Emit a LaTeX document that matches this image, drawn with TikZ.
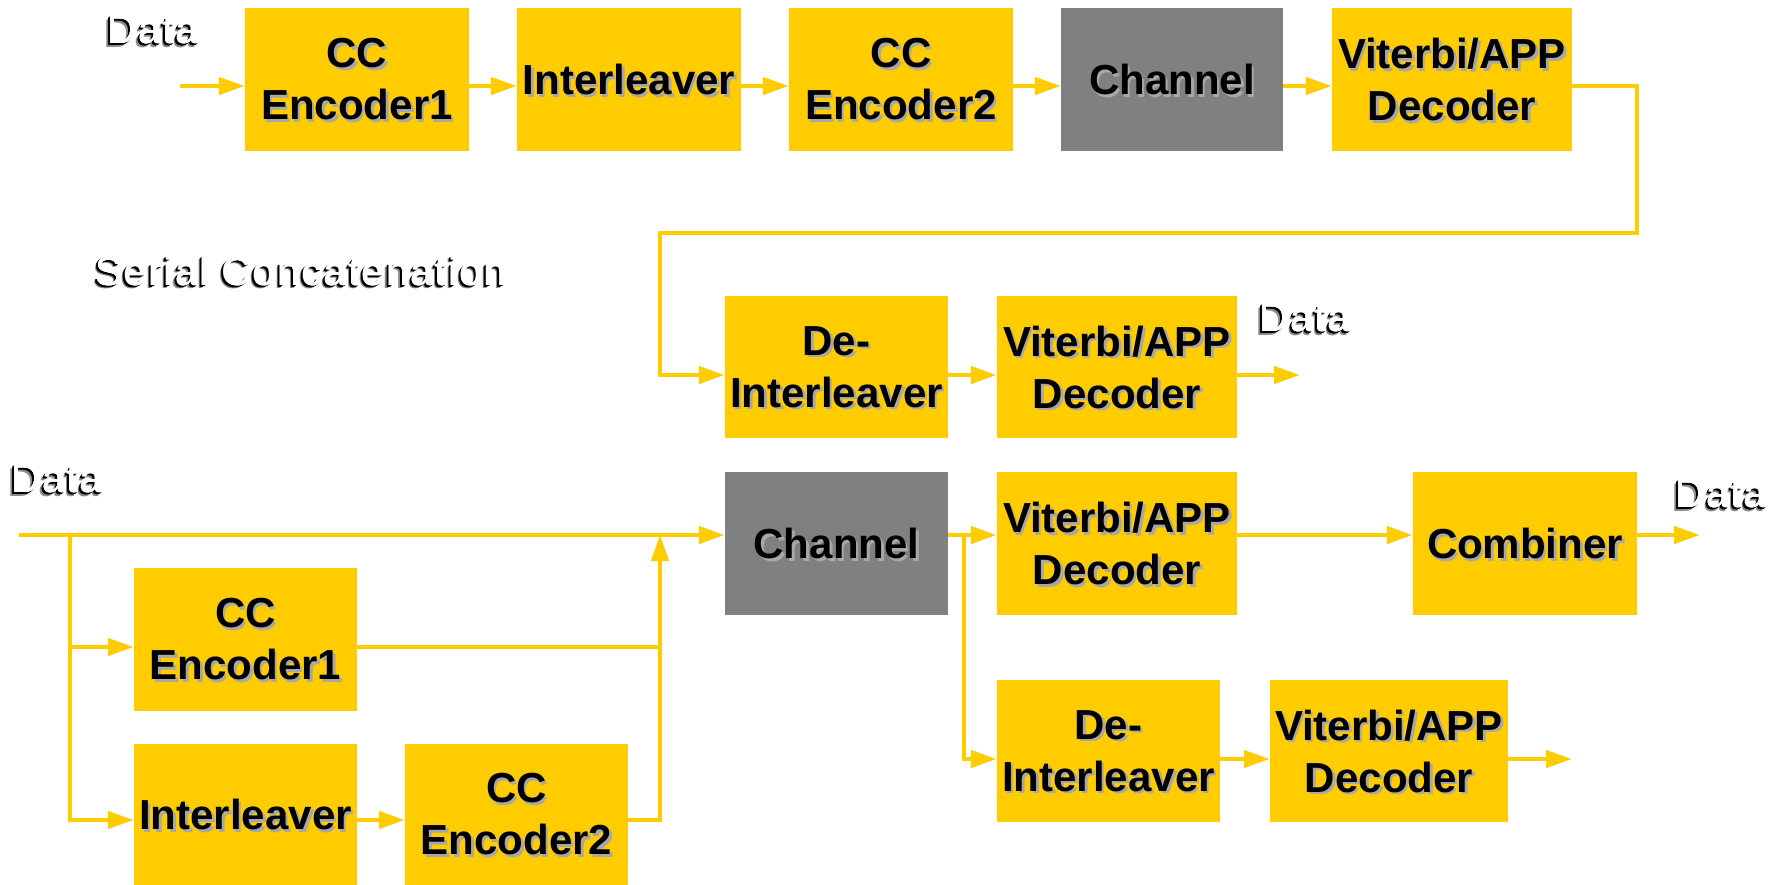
\documentclass[tikz,border=0pt]{standalone}
\usepackage{fontspec}
\setmainfont{Liberation Sans}
\newfontfamily\lblfont[LetterSpace=5.5]{Liberation Sans}
\usetikzlibrary{arrows.meta}
\definecolor{ccyel}{HTML}{FFCC00}
\definecolor{ccgray}{HTML}{808080}
\definecolor{ccshad}{HTML}{A8A8A8}
\tikzset{
  box/.style={fill=ccyel, draw=none, inner sep=0pt},
  gbox/.style={fill=ccgray, draw=none, inner sep=0pt},
  txt/.style={font=\fontsize{42}{52}\selectfont\bfseries, align=center, inner sep=0pt, text=black},
  txtsh/.style={txt, text=ccshad},
  lbl/.style={font=\fontsize{40}{46}\selectfont\lblfont, inner sep=0pt, text=white},
  lblsh/.style={lbl, text=black},
  ln/.style={draw=ccyel, line width=4.5pt},
  arr/.style={ln, -{Triangle[length=26pt,width=17pt]}}
}
\newcommand\myblk[7]{%
  \node[#6, minimum width=#4pt, minimum height=#5pt] (#1) at (#2,#3) {};
  \node[txtsh] at ([shift={(2.5,2.5)}]#1.center) {#7};
  \node[txt] at (#1.center) {#7};}
\newcommand\mylbl[4]{%
  \node[lblsh, text=black!45] at ([shift={(-3.5,3.5)}]#2,#3) {#4};
  \foreach \d in {0.8,1.6,2.4}{\node[lblsh] at ([shift={(-\d,\d)}]#2,#3) {#4};}
  \foreach \d in {-0.4,0.4}{\node[lbl] at ([shift={(\d,0)}]#2,#3) {#4};}
  \node[lbl] (#1) at (#2,#3) {#4};}
\begin{document}
\begin{tikzpicture}[x=1pt,y=-1pt]
\useasboundingbox (0,0) rectangle (1781,885);
% ---------- top row ----------
\myblk{e1}{357}{79.5}{224}{143}{box}{CC\\Encoder1}
\myblk{il}{629}{79.5}{224}{143}{box}{Interleaver}
\myblk{e2}{901}{79.5}{224}{143}{box}{CC\\Encoder2}
\myblk{ch}{1172}{79.5}{222}{143}{gbox}{Channel}
\myblk{vd}{1452}{79.5}{240}{143}{box}{Viterbi/APP\\Decoder}
\mylbl{dt1}{153}{30}{Data}
\coordinate (din) at (180,86);
\draw[arr] (din) -- (din -| e1.west);
\draw[arr] (e1.east |- din) -- (il.west |- din);
\draw[arr] (il.east |- din) -- (e2.west |- din);
\draw[arr] (e2.east |- din) -- (ch.west |- din);
\draw[arr] (ch.east |- din) -- (vd.west |- din);
% ---------- middle row ----------
\mylbl{sc}{301}{271}{Serial Concatenation}
\myblk{di}{836.5}{367}{223}{142}{box}{De-\\Interleaver}
\myblk{vd2}{1117}{367}{240}{142}{box}{Viterbi/APP\\Decoder}
\mylbl{dt2}{1305}{318}{Data}
\coordinate (fb1) at (1637,233);
\coordinate (fbc) at (660,375);
\coordinate (dout2) at (1300,375);
\draw[arr] (vd.east |- din) -| (fb1) -| (fbc) -- (di.west |- fbc);
\draw[arr] (di.east |- fbc) -- (vd2.west |- fbc);
\draw[arr] (vd2.east |- fbc) -- (dout2);
% ---------- bottom section ----------
\myblk{ch2}{836.5}{543.5}{223}{143}{gbox}{Channel}
\myblk{vd3}{1117}{543.5}{240}{143}{box}{Viterbi/APP\\Decoder}
\myblk{cb}{1525}{543.5}{224}{143}{box}{Combiner}
\myblk{di2}{1108.5}{751}{223}{142}{box}{De-\\Interleaver}
\myblk{vd4}{1389}{751}{238}{142}{box}{Viterbi/APP\\Decoder}
\myblk{be1}{245.5}{639.5}{223}{143}{box}{CC\\Encoder1}
\myblk{bil}{245.5}{814.5}{223}{141}{box}{Interleaver}
\myblk{be2}{516.5}{814.5}{223}{141}{box}{CC\\Encoder2}
\mylbl{dt3}{57}{479}{Data}
\mylbl{dt4}{1721}{494}{Data}
\coordinate (bin) at (19,535);
\coordinate (bj) at (70,535);
\coordinate (bm) at (660,535);
\coordinate (br) at (964,535);
\coordinate (y1) at (0,647);
\coordinate (y2) at (0,820);
\coordinate (y3) at (0,759);
\coordinate (dout3) at (1700,535);
\coordinate (dout4) at (1572,759);
\draw[arr] (bin) -- (ch2.west |- bin);
\draw[arr] (bj) |- (bil.west |- y2);
\draw[arr] (bj |- y1) -- (be1.west |- y1);
\draw[arr] (bil.east |- y2) -- (be2.west |- y2);
\draw[ln] (be1.east |- y1) -- (bm |- y1);
\draw[arr] (be2.east |- y2) -| (bm);
\draw[arr] (ch2.east |- bin) -- (vd3.west |- bin);
\draw[arr] (br) |- (di2.west |- y3);
\draw[arr] (vd3.east |- bin) -- (cb.west |- bin);
\draw[arr] (cb.east |- bin) -- (dout3);
\draw[arr] (di2.east |- y3) -- (vd4.west |- y3);
\draw[arr] (vd4.east |- y3) -- (dout4);
\end{tikzpicture}
\end{document}
